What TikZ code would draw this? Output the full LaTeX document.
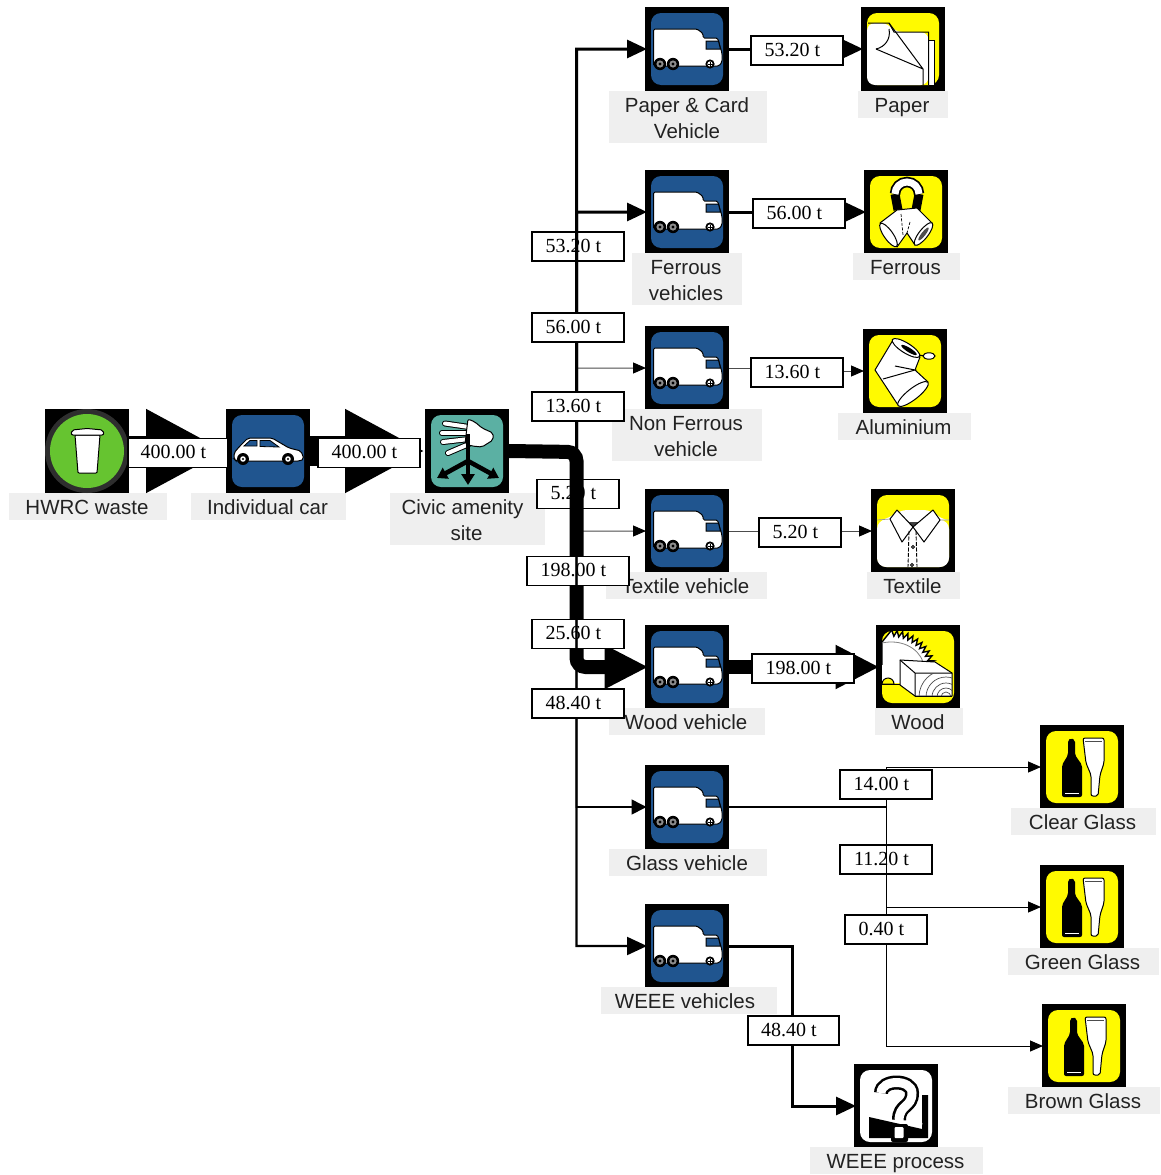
\documentclass[tikz,border=0pt]{standalone}
\usepackage{fontspec}
\setmainfont{Liberation Sans}
\newfontfamily\valfont{Liberation Serif}
\usetikzlibrary{arrows.meta}
\definecolor{vanblue}{HTML}{20558F}
\definecolor{icoyellow}{HTML}{FFFA00}
\definecolor{binring}{HTML}{2E2E2E}
\definecolor{bingreen}{HTML}{66C430}
\definecolor{teal2}{HTML}{5BB0A3}
\definecolor{labgray}{HTML}{EFEFEF}
\definecolor{labtext}{HTML}{222222}
\tikzset{
  x=1pt,y=-1pt,
  frame/.style={fill=black,draw=none,minimum size=84pt,inner sep=0pt,outer sep=0pt},
  lab/.style={fill=labgray,draw=none,inner sep=0pt,outer sep=0pt,align=center,text=labtext,font=\fontsize{20.5}{26}\selectfont,execute at end node={\hspace*{2pt}}},
  one/.style={lab,minimum height=27pt,text height=17pt,text depth=2pt},
  two/.style={lab,minimum height=52pt,text height=45pt,text depth=2pt},
  val/.style={fill=white,draw=black,line width=1.4pt,inner sep=0pt,outer sep=0pt,minimum height=29pt,text height=15pt,text depth=4pt,font=\valfont\fontsize{20}{24}\selectfont,execute at end node={\hspace{9pt}}},
  flowXL/.style={line width=30pt,-{Triangle[length=80pt,width=78pt]}},
  flowL/.style={line width=14pt,shorten >=-3.5pt,-{Triangle[length=44pt,width=41pt]}},
  flowM/.style={line width=3pt,shorten >=-2pt,-{Triangle[length=20pt,width=18pt]}},
  flowS/.style={line width=1pt,draw=black!70,shorten >=-1pt,-{Triangle[length=13pt,width=11pt,black]}},
  ol/.style={draw=black,line width=1pt},
}
\newcommand{\bgbox}[1]{\fill[#1,rounded corners=10pt] (6,6) rectangle (78,78);}
\newcommand{\vanicon}[1]{\begin{scope}[shift={(#1.north west)}]
  \bgbox{vanblue}
  \draw[fill=white,ol,rounded corners=1.5pt] (8.5,22)--(52,22)--(58,26.5)--(58,31)--(72.5,31)--(77,46)--(77,55)--(74,59)--(8.5,59)--cycle;
  \draw[fill=vanblue,line width=1pt] (61,34)--(73.5,34)--(75.5,42)--(61,42)--cycle;
  \foreach \c in {15,28}{\fill[black] (\c,57) circle (6.2);\fill[black!45] (\c,57) circle (3.6);\fill[black] (\c,57) circle (1.6);}
  \fill[black] (65,57) circle (4.6);\fill[white] (65,57) circle (2.6);
  \draw[line width=.6pt] (62.5,57)--(67.5,57) (65,54.5)--(65,59.5);
\end{scope}}
\newcommand{\caricon}[1]{\begin{scope}[shift={(#1.north west)}]
  \bgbox{vanblue}
  \draw[fill=white,ol,rounded corners=2pt] (8,50)--(8,44)--(13,38)--(22,29)--(46,29)--(63,39)--(75,42)--(78,50)--(74,52)--(10,52)--cycle;
  \draw[fill=vanblue,line width=.8pt] (24,31.5)--(31,31.5)--(31,37)--(18,37)--cycle;
  \draw[fill=vanblue,line width=.8pt] (34,31.5)--(44,31.5)--(53,38)--(34,37.5)--cycle;
  \foreach \c in {17,62}{\fill[black] (\c,50) circle (6);\fill[white] (\c,50) circle (2.8);\fill[black] (\c,50) circle (1.2);}
\end{scope}}
\newcommand{\binicon}[1]{\begin{scope}[shift={(#1.north west)}]
  \fill[binring] (42,42) circle (42);
  \fill[bingreen] (42,42) circle (37);
  \draw[fill=white,ol,rounded corners=1pt] (30,26)--(55,26)--(52,64)--(33,64)--cycle;
  \draw[fill=white,ol,rounded corners=2pt] (26,26)--(27,21)--(42,19.5)--(58,21)--(59,26)--cycle;
\end{scope}}
\newcommand{\civicicon}[1]{\begin{scope}[shift={(#1.north west)}]
  \bgbox{teal2}
  \foreach \a/\b/\c/\d in {20/14.5/44/18,17/24/44/24,18/33/44/30,23/44/44/35}{
    \draw[line width=6pt,line cap=round] (\a,\b)--(\c,\d);}
  \foreach \a/\b/\c/\d in {20/14.5/44/18,17/24/44/24,18/33/44/30,23/44/44/35}{
    \draw[white,line width=4pt,line cap=round] (\a,\b)--(\c,\d);}
  \draw[fill=white,ol,rounded corners=2pt] (43,10)--(50,13)--(57,19)--(68,24)--(68,31)--(57,38)--(47,37)--(40,35)--(42,18)--cycle;
  \draw[line width=4.6pt,-{Triangle[length=11pt,width=13pt]}] (43,25)--(43,76);
  \draw[line width=4.6pt,-{Triangle[length=10pt,width=12pt]}] (43,52)--(12,69);
  \draw[line width=4.6pt,-{Triangle[length=10pt,width=12pt]}] (43,52)--(74,69);
\end{scope}}
\newcommand{\papericon}[1]{\begin{scope}[shift={(#1.north west)}]
  \bgbox{icoyellow}
  \fill[white] (68,33) rectangle (73,78);
  \draw[line width=1pt] (68,33)--(73,33)--(73,78);
  \fill[white,rounded corners=8pt] (6,78)--(6,16)--(28,16)--(33,25)--(67.5,25)--(67.5,78)--cycle;
  \draw[line width=1pt] (7,16)--(28,16)--(33,25)--(67.5,25)--(67.5,78);
  \draw[line width=1pt] (28,16)--(62,62)--(62,78) (62,62)--(15,42);
  \draw[line width=1pt] (15,42) .. controls (24,40) and (30,32) .. (28,22);
\end{scope}}
\newcommand{\magneticon}[1]{\begin{scope}[shift={(#1.north west)}]
  \bgbox{icoyellow}
  \draw[line width=9pt] (31,24)--(34,40);
  \draw[line width=9pt] (55,24)--(52,40);
  \draw[line width=10.5pt] (31,24) arc (180:360:12);
  \draw[white,line width=7pt] (31,24) arc (180:360:12);
  \draw[fill=white,ol,line join=round] (33,40)--(53,38)--(68,53)--(51,75)--(43,63)--(33,77)--(16,53)--cycle;
  \draw[fill=white,ol,rotate around={-55:(24.5,65)}] (24.5,65) ellipse [x radius=14,y radius=4.5];
  \draw[fill=white,ol,rotate around={52:(59.5,64)}] (59.5,64) ellipse [x radius=14,y radius=4.5];
  \fill[black!70,rotate around={52:(59.5,64)}] (59.5,64) ellipse [x radius=8,y radius=2];
  \draw[line width=.7pt,dash pattern=on 3pt off 1.5pt] (37,44)--(39,65) (46,52)--(43,63);
\end{scope}}
\newcommand{\canicon}[1]{\begin{scope}[shift={(#1.north west)}]
  \bgbox{icoyellow}
  \draw[fill=white,ol,line join=round] (30,11)--(12,41)--(35,76)--(65,53)--(52,41)--(57,28)--cycle;
  \draw[fill=white,ol,rotate around={-32:(43,19)}] (43,19) ellipse [x radius=16,y radius=5];
  \fill[black,rotate around={-32:(46,21)}] (46,21) ellipse [x radius=9,y radius=2.2];
  \draw[fill=white,ol,rotate around={38:(50,65)}] (50,65) ellipse [x radius=19,y radius=5.5];
  \draw[line width=1pt] (32,37)--(52,41)--(20,50);
  \draw[fill=white,ol] (66,27) ellipse [x radius=6,y radius=3.2];
  \draw[line width=1pt] (56,26)--(61,27);
\end{scope}}
\newcommand{\shirticon}[1]{\begin{scope}[shift={(#1.north west)}]
  \bgbox{icoyellow}
  \fill[white,rounded corners=9pt] (6,31)--(19,30)--(27,21)--(62,21)--(69,31)--(78,31)--(78,78)--(6,78)--cycle;
  \draw[line width=.7pt,black!40] (6,31)--(19,30) (69,31)--(78,31);
  \fill[black!75] (37,33)--(47,33)--(46,38)--(38,38)--cycle;
  \draw[fill=white,ol,line join=round] (19,30)--(26,21)--(42,38)--(31,53)--cycle;
  \draw[fill=white,ol,line join=round] (42,38)--(62,21)--(69,31)--(53,53)--cycle;
  \draw[line width=.9pt,dash pattern=on 4pt off 1.5pt] (38,42)--(37,78) (45,42)--(46,78);
  \draw[fill=white,line width=.8pt] (42,58) circle (1.5) (41,76) circle (1.5);
\end{scope}}
\newcommand{\sawicon}[1]{\begin{scope}[shift={(#1.north west)}]
  \bgbox{icoyellow}
  \fill[white,rounded corners=6pt] (6,58)--(6,16)--(14,10)--(55,36)--(55,58)--cycle;
  \draw[line width=1.4pt,fill=white,line join=miter]
   (6,17)--plot[samples at={0,...,20}] ({14+(47-6*mod(\x,2))*cos(88-3.4*\x)},{52-(47-6*mod(\x,2))*sin(88-3.4*\x)})--(30,50)--(6,50)--cycle;
  \draw[black!50,line width=.8pt] (6,18) .. controls (24,14) and (42,22) .. (47,37);
  \fill[white] (5.5,40) rectangle (28,58);
  \draw[fill=icoyellow,line width=1pt] (6,59) arc (180:360:6)--cycle;
  \draw[line width=1pt] (6,59)--(30,59);
  \draw[fill=white,ol,line join=round] (24,35)--(59,37)--(76,48)--(76,71)--(39,71)--(24,60)--cycle;
  \draw[line width=1pt] (24,35)--(39,48)--(76,48) (39,48)--(39,71);
  \begin{scope}
    \clip (39,48) rectangle (76,71);
    \foreach \r in {5,9,14,20,27}{\draw[black!70,line width=.7pt] (70,72) circle (\r);}
  \end{scope}
  \draw[line width=1pt] (39,71)--(76,71);
\end{scope}}
\newcommand{\bottleicon}[1]{\begin{scope}[shift={(#1.north west)}]
  \bgbox{icoyellow}
  \fill[black,rounded corners=2pt] (28,15)--(31,13)--(35,15)--(35,30)--(42,40)--(42,72)--(22,72)--(22,40)--(28,30)--cycle;
  \draw[white,line width=.8pt] (25,68.5)--(39,68.5);
  \draw[fill=white,ol,rounded corners=2pt] (43,13)--(64,13)--(64,38)--(60,50)--(58,71)--(51,71)--(51,50)--(46,38)--cycle;
  \draw[black!70,line width=.8pt] (45,16.5)--(62,16.5);
\end{scope}}
\newcommand{\questicon}[1]{\begin{scope}[shift={(#1.north west)}]
  \bgbox{white}
  \fill[black] (15,53)--(68,65)--(68,31)--(74,31)--(74,74)--(15,74)--cycle;
  \draw[white,line width=4pt] (15,48)--(68,61);
  \draw[line width=14pt] (27,29) .. controls (27,15) and (58,15) .. (58,29) .. controls (58,44) and (45,40) .. (45,56);
  \draw[white,line width=9pt] (27,29) .. controls (27,15) and (58,15) .. (58,29) .. controls (58,44) and (45,40) .. (45,57);
  \fill[black,rounded corners=2pt] (37,60) rectangle (54,78);
  \fill[white,rounded corners=1pt] (40.5,63) rectangle (49.5,74);
\end{scope}}
\begin{document}
\begin{tikzpicture}
\useasboundingbox (0,0) rectangle (1161,1175);
% frames
\node[frame] (hwrc) at (87,451) {};
\node[frame] (car) at (268,451) {};
\node[frame] (civic) at (467,451) {};
\node[frame] (vpaper) at (687,49) {};
\node[frame] (vferrous) at (687,212) {};
\node[frame] (vnon) at (687,368) {};
\node[frame] (vtextile) at (687,531) {};
\node[frame] (vwood) at (687,667) {};
\node[frame] (vglass) at (687,807) {};
\node[frame] (vweee) at (687,946) {};
\node[frame] (paper) at (903,49) {};
\node[frame] (ferrous) at (906,212) {};
\node[frame] (alu) at (905,371) {};
\node[frame] (textile) at (913,531) {};
\node[frame] (wood) at (918,667) {};
\node[frame] (clear) at (1082,767) {};
\node[frame] (green) at (1082,907) {};
\node[frame] (brown) at (1084,1046) {};
\node[frame] (weee) at (896,1106) {};
% labels
\node[one,minimum width=158pt] (lhwrc) at (88,506.5) {HWRC waste};
\node[one,minimum width=155pt] (lcar) at (268.5,506.5) {Individual car};
\node[two,minimum width=155pt] (lcivic) at (467.5,518.5) {Civic amenity\hspace*{8pt}\\site};
\node[two,minimum width=158pt] (lvpaper) at (688,116.5) {Paper \& Card\\Vehicle};
\node[one,minimum width=90pt] (lpaper) at (903,104.5) {Paper};
\node[two,minimum width=110pt] (lvferrous) at (687,279) {Ferrous\\vehicles};
\node[one,minimum width=107pt] (lferrous) at (906.5,266.5) {Ferrous};
\node[two,minimum width=150pt] (lvnon) at (687,435) {Non Ferrous\\vehicle};
\node[one,minimum width=133pt] (lalu) at (904.5,426.5) {Aluminium};
\node[one,minimum width=161pt] (lvtextile) at (686.5,585.5) {Textile vehicle};
\node[one,minimum width=93pt] (ltextile) at (913.5,585.5) {Textile};
\node[one,minimum width=156pt] (lvwood) at (687,721.5) {Wood vehicle};
\node[one,minimum width=88pt] (lwood) at (919,721.5) {Wood};
\node[one,minimum width=158pt] (lvglass) at (688,862.5) {Glass vehicle};
\node[one,minimum width=145pt] (lclear) at (1083.5,821.5) {Clear Glass};
\node[one,minimum width=151pt] (lgreen) at (1083.5,961.5) {Green Glass};
\node[one,minimum width=152pt] (lbrown) at (1084,1100.5) {Brown Glass};
\node[one,minimum width=176pt] (lvweee) at (689,1000.5) {WEEE vehicles\hspace*{6pt}};
\node[one,minimum width=173pt] (lweee) at (896.5,1160.5) {WEEE process};
% icons
\binicon{hwrc}\caricon{car}\civicicon{civic}
\vanicon{vpaper}\vanicon{vferrous}\vanicon{vnon}\vanicon{vtextile}\vanicon{vwood}\vanicon{vglass}\vanicon{vweee}
\papericon{paper}\magneticon{ferrous}\canicon{alu}\shirticon{textile}\sawicon{wood}
\bottleicon{clear}\bottleicon{green}\bottleicon{brown}\questicon{weee}
% junction points
\coordinate (trunk) at (576.5,452);
\coordinate (gj) at (886,807);
\coordinate (wj) at (792,946);
% top row
\draw[flowXL] (hwrc.east)--(car.west);
\node[val,minimum width=100pt] (b1) at (178,453) {400.00 t};
\draw[flowXL] (car.east)--(civic.west);
\node[val,minimum width=102pt] (b2) at (369,453) {400.00 t};
% thin branches
\draw[flowS] (civic.east)--(trunk)|-(vnon.west);
\draw[flowS] (civic.east)--(trunk)|-(vtextile.west);
% boxes beneath the later lines
\node[val,minimum width=82pt] (b520a) at (578,494) {5.20 t};
\node[val,minimum width=92pt] (b532a) at (578,246.5) {53.20 t};
% wood flow
\draw[line width=14pt,rounded corners=9pt,shorten >=-3.5pt,-{Triangle[length=44pt,width=41pt]}] (civic.east)--(trunk)|-(vwood.west);
% paper, ferrous
\draw[flowM] (civic.east)--(trunk)|-(vpaper.west);
\draw[flowM] (civic.east)--(trunk)|-(vferrous.west);
\node[val,minimum width=92pt] (b56a) at (578,327.5) {56.00 t};
\node[val,minimum width=92pt] (b136a) at (578,406.5) {13.60 t};
\node[val,minimum width=102pt] (b198a) at (578,571) {198.00 t};
\node[val,minimum width=92pt] (b256a) at (578,634) {25.60 t};
% glass and WEEE feed
\draw[line width=1.6pt,shorten >=-1.5pt,-{Triangle[length=15pt,width=15pt]}] (civic.east)--(trunk)|-(vglass.west);
\draw[flowM,line width=2.2pt] (civic.east)--(trunk)|-(vweee.west);
\node[val,minimum width=92pt] (b484a) at (578,703.5) {48.40 t};
% vehicle to destination
\draw[flowM] (vpaper.east)--(paper.west);
\node[val,minimum width=92pt] (b532b) at (797,50.5) {53.20 t};
\draw[flowM] (vferrous.east)--(ferrous.west);
\node[val,minimum width=92pt] (b56b) at (799,213.5) {56.00 t};
\draw[flowS] (vnon.east)-|(797,371)--(alu.west);
\node[val,minimum width=92pt] (b136b) at (797,372.5) {13.60 t};
\draw[flowS] (vtextile.east)--(textile.west);
\node[val,minimum width=82pt] (b520b) at (800,532.5) {5.20 t};
\draw[flowL] (vwood.east)--(wood.west);
\node[val,minimum width=102pt] (b198b) at (803,668.5) {198.00 t};
\draw[flowM] (vweee.east)--(wj)|-(weee.west);
\node[val,minimum width=91pt] (b484b) at (793.5,1030.5) {48.40 t};
% glass branches
\node[val,minimum width=92pt] (b112) at (886,859.5) {11.20 t};
\draw[line width=1.8pt] (vglass.east)--(gj);
\draw[flowS,draw=black] (vglass.east)--(gj)|-(green.west);
\draw[flowS,draw=black] (vglass.east)--(gj)|-(brown.west);
\draw[flowS,draw=black] (vglass.east)--(gj)|-(clear.west);
\node[val,minimum width=92pt] (b14) at (886,784.5) {14.00 t};
\node[val,minimum width=82pt] (b04) at (886,929.5) {0.40 t};
\end{tikzpicture}
\end{document}
